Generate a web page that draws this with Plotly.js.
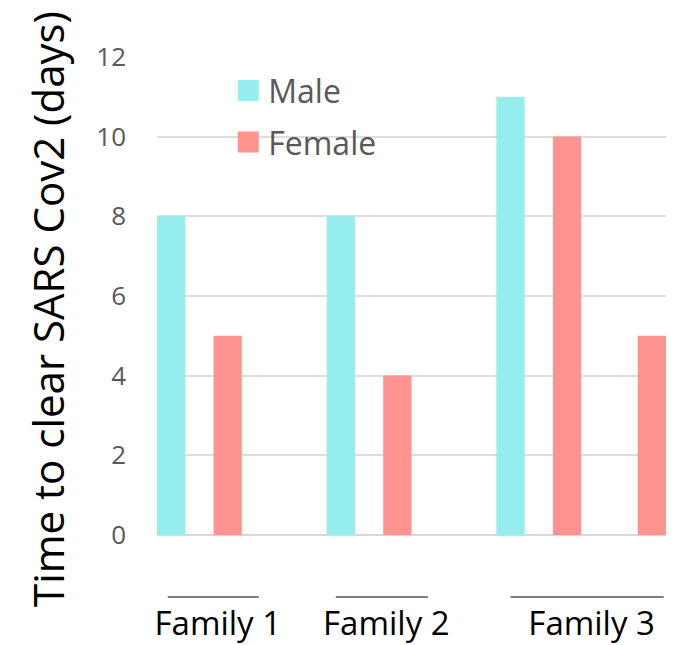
<!DOCTYPE html>
<html>
<head>
<meta charset="utf-8">
<script src="https://cdn.plot.ly/plotly-3.0.1.min.js"></script>
<style>html,body{margin:0;padding:0;background:#fff;}#chart{width:674px;height:645px;}</style>
</head>
<body>
<div id="chart"></div>
<script>
// ---- data ----
const familyLabels = ['Family 1', 'Family 2', 'Family 3'];
const maleValues = [8, 8, 11];
const femaleValues = [5, 4, 10, 5];
const maleFamily = [0, 1, 2];
const femaleFamily = [0, 1, 2, 2];
const yTicks = [0, 2, 4, 6, 8, 10, 12];
const yTitle = 'Time to clear SARS Cov2 (days)';

// ---- layout helpers (slot positions on a numeric axis) ----
const maleSlot = [0.25, 3.25, 6.25];
const femaleSlot = [1.25, 4.25, 7.25, 8.75];
const bracketStart = [0.19, 3.16, 6.25];
const bracketEnd = [1.80, 4.79, 8.96];
const labelPos = bracketStart.map((s, i) => (s + bracketEnd[i]) / 2 + 0.08);

const FONT = 'Open Sans, sans-serif';

const traces = [
  {type: 'bar', name: 'Male', x: maleSlot, y: maleValues, width: 0.5,
   marker: {color: '#95EDED'}, legendgroup: 'm', customdata: maleFamily.map(i => familyLabels[i])},
  {type: 'bar', name: 'Female', x: femaleSlot, y: femaleValues, width: 0.5,
   marker: {color: '#FF9390'}, legendgroup: 'f', customdata: femaleFamily.map(i => familyLabels[i])}
];

const shapes = bracketStart.map((s, i) => ({
  type: 'line', xref: 'x', yref: 'paper', x0: s, x1: bracketEnd[i], y0: -0.1294, y1: -0.1294,
  line: {color: '#000000', width: 1.2}
}));

const layout = {
  width: 674, height: 645,
  margin: {l: 157, r: 8, t: 56, b: 110},
  paper_bgcolor: '#ffffff', plot_bgcolor: '#ffffff',
  font: {family: FONT},
  barmode: 'overlay',
  showlegend: true,
  legend: {x: 0.14, xanchor: 'left', y: 0.985, yanchor: 'top', bgcolor: 'rgba(0,0,0,0)',
           font: {family: FONT, size: 32, color: '#595959'}, tracegroupgap: 7, traceorder: 'grouped'},
  xaxis: {range: [0, 9], showgrid: false, zeroline: false, showline: false, ticks: '',
          tickmode: 'array', tickvals: labelPos, ticktext: familyLabels,
          tickfont: {family: FONT, size: 33, color: '#000000'}, ticklabelstandoff: 66, fixedrange: true},
  yaxis: {range: [0, 12.02], tickmode: 'array', tickvals: yTicks, ticktext: yTicks.map(String),
          showgrid: true, gridcolor: '#DEDEDE', gridwidth: 2, zeroline: true, zerolinecolor: '#D9D9D9', zerolinewidth: 2,
          showline: false, ticks: '', tickfont: {family: FONT, size: 26, color: '#595959'}, ticklabelstandoff: 30,
          automargin: false, fixedrange: true},
  annotations: [{
    text: yTitle, xref: 'paper', yref: 'paper', x: (47 - 157) / 509, y: (535 - 309) / 479,
    xanchor: 'center', yanchor: 'middle', textangle: -90, showarrow: false,
    font: {family: FONT, size: 42, color: '#000000'}
  }],
  shapes: shapes
};

Plotly.newPlot('chart', traces, layout, {displayModeBar: false, staticPlot: true}).then(function (gd) {
  gd.querySelectorAll('.legend .legendpoints path').forEach(function (p) {
    p.setAttribute('transform', 'translate(20,0) scale(1.75)');
  });
});
</script>
</body>
</html>
